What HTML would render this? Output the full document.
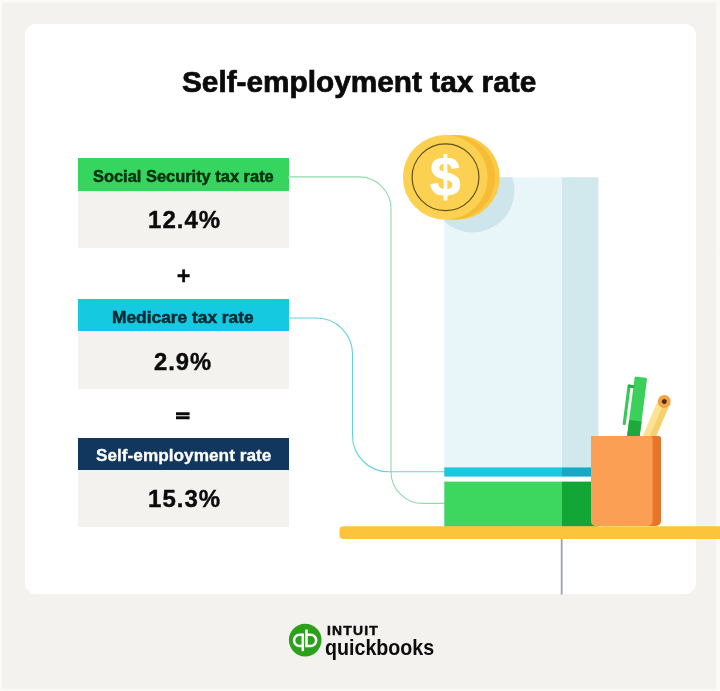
<!DOCTYPE html>
<html lang="en">
<head>
<meta charset="utf-8">
<title>Self-employment tax rate</title>
<style>
html,body{margin:0;padding:0;}
body{width:720px;height:691px;background:linear-gradient(to bottom,#fbfaf6 0,#fbfaf6 1.5px,rgba(243,242,238,0) 4px) top/100% 4px no-repeat,linear-gradient(to left,#fbfaf6 0,#fbfaf6 2.5px,rgba(243,242,238,0) 5px) right/5px 100% no-repeat,linear-gradient(to right,#fbfaf6 0,#fbfaf6 1px,rgba(243,242,238,0) 3px) left/3px 100% no-repeat,linear-gradient(to top,#fbfaf6 0,#fbfaf6 1px,rgba(243,242,238,0) 3px) bottom/100% 3px no-repeat,#f3f2ee;position:relative;overflow:hidden;font-family:"Liberation Sans",sans-serif;}
.card{position:absolute;left:25px;top:24px;width:671px;height:570px;background:#fff;border-radius:11px;}
.t{position:absolute;white-space:nowrap;font-weight:bold;line-height:1;transform-origin:0 0;}
.hd{position:absolute;left:77.8px;width:210.8px;}
.bd{position:absolute;left:77.8px;width:210.8px;background:#f3f2ee;}
svg{position:absolute;left:0;top:0;}
#wrap{position:absolute;left:0;top:0;width:720px;height:691px;filter:blur(0.4px);}
</style>
</head>
<body>
<div id="wrap">
<div class="card"></div>
<div id="title" class="t" style="left:182.1px;top:67.65px;font-size:29px;color:#0b0b0b;-webkit-text-stroke:0.7px #0b0b0b;transform:scaleX(1.027);">Self-employment tax rate</div>

<div class="hd" style="top:158.3px;height:32.6px;background:#36d560"></div>
<div class="bd" style="top:190.8px;height:57.5px"></div>
<div class="hd" style="top:299.2px;height:32.2px;background:#15c9e0"></div>
<div class="bd" style="top:331.3px;height:58px"></div>
<div class="hd" style="top:437.7px;height:32.3px;background:#12375e"></div>
<div class="bd" style="top:469.9px;height:56.8px"></div>

<div id="h1" class="t" style="left:92.6px;top:167.61px;font-size:17px;color:#07300f;-webkit-text-stroke:0.5px #07300f;transform:scaleX(0.966);">Social Security tax rate</div>
<div id="v1" class="t" style="left:147.7px;top:209.18px;font-size:23.3px;letter-spacing:1px;color:#0b0b0b;-webkit-text-stroke:0.4px #0b0b0b;transform:scaleX(1.03);">12.4%</div>
<div id="plus" class="t" style="left:176.8px;top:265.3px;font-size:23.5px;color:#0b0b0b;-webkit-text-stroke:0.3px #0b0b0b;">+</div>
<div id="h2" class="t" style="left:112.0px;top:308.61px;font-size:17px;color:#062a33;-webkit-text-stroke:0.5px #062a33;transform:scaleX(1.02);">Medicare tax rate</div>
<div id="v2" class="t" style="left:154.4px;top:350.58px;font-size:23.3px;letter-spacing:1px;color:#0b0b0b;-webkit-text-stroke:0.4px #0b0b0b;transform:scaleX(1.02);">2.9%</div>
<div id="eq" class="t" style="left:176.4px;top:407.9px;font-size:25px;color:#0b0b0b;-webkit-text-stroke:2.1px #0b0b0b;transform:scale(0.93,0.6);">=</div>
<div id="h3" class="t" style="left:96.0px;top:446.81px;font-size:17px;color:#fff;-webkit-text-stroke:0.3px #fff;transform:scaleX(1.014);">Self-employment rate</div>
<div id="v3" class="t" style="left:147.5px;top:487.58px;font-size:23.3px;letter-spacing:1px;color:#0b0b0b;-webkit-text-stroke:0.4px #0b0b0b;transform:scaleX(1.03);">15.3%</div>

<svg width="720" height="691" viewBox="0 0 720 691">
  <defs>
    <clipPath id="barclip"><rect x="444.3" y="177.3" width="154.2" height="300"/></clipPath>
  </defs>
  <!-- connector lines -->
  <path d="M288 176.9 H359 A32 32 0 0 1 391 208.9 V471.4 A32 32 0 0 0 423 503.4 H445" fill="none" stroke="#8fdcaa" stroke-width="1.1"/>
  <path d="M288 318 H316.5 A36 36 0 0 1 352.5 354 V435.8 A36 36 0 0 0 388.5 471.8 H445" fill="none" stroke="#62d2e2" stroke-width="1.1"/>
  <!-- tall bar -->
  <rect x="444.3" y="177.3" width="118" height="290.2" fill="#e8f5f9"/>
  <rect x="562" y="177.3" width="36.5" height="290.2" fill="#d1e9ed"/>
  <circle cx="472.5" cy="190.5" r="42" fill="#cfe5ec" clip-path="url(#barclip)"/>
  <!-- cyan band -->
  <rect x="444.3" y="467.4" width="118" height="9.2" fill="#1cc8dd"/>
  <rect x="562" y="467.4" width="36.5" height="9.2" fill="#14a9c4"/>
  <!-- green band -->
  <rect x="444.3" y="481.6" width="118" height="45.2" fill="#3dd65f"/>
  <rect x="562" y="481.6" width="36.5" height="45.2" fill="#12a637"/>
  <!-- table leg -->
  <rect x="560.8" y="538" width="1.8" height="56.4" fill="#98a4b0"/>
  <!-- pen -->
  <g transform="translate(-0.6 0) rotate(7.3 633.5 436)">
    <rect x="627.75" y="376.7" width="12.5" height="62" rx="1.5" fill="#3bd05b"/>
    <rect x="627.75" y="420.5" width="12.5" height="19" fill="#1fa83c"/>
    <rect x="621.8" y="385.4" width="3.1" height="40.8" rx="1.2" fill="#35c956"/>
    <rect x="622.5" y="385.4" width="6" height="3" fill="#25b045"/>
  </g>
  <!-- pencil -->
  <g transform="translate(-0.5 0) rotate(23.2 650 436)">
    <rect x="643.7" y="398.5" width="6.3" height="42" fill="#fbe391"/>
    <rect x="650" y="398.5" width="6.3" height="42" fill="#f7d06e"/>
    <circle cx="650" cy="398.5" r="6.5" fill="#f2a444"/>
    <circle cx="650" cy="398.5" r="2.4" fill="#4a2e1a"/>
  </g>
  <!-- cup -->
  <path d="M593 436 H658.5 A2.5 2.5 0 0 1 661 438.5 V521 A5 5 0 0 1 656 526 H596 A5 5 0 0 1 591 521 V438 A2 2 0 0 1 593 436 Z" fill="#e8762a"/>
  <path d="M593 436 H650.5 A2 2 0 0 1 652.5 438 V521 A5 5 0 0 1 647.5 526 H596 A5 5 0 0 1 591 521 V438 A2 2 0 0 1 593 436 Z" fill="#fb9f55"/>
  <!-- table -->
  <path d="M343.5 526.3 H720 V538.9 H343.5 A4 4 0 0 1 339.5 534.9 V530.3 A4 4 0 0 1 343.5 526.3 Z" fill="#fbc43a"/>
  <!-- coin -->
  <circle cx="457.3" cy="177.3" r="42.4" fill="#fbcb48"/>
  <circle cx="452.8" cy="177.3" r="42.4" fill="#f6bc35"/>
  <circle cx="445.3" cy="177.3" r="42.4" fill="#fcd050"/>
  <circle cx="445.5" cy="177.3" r="33.4" fill="none" stroke="#5f5420" stroke-width="1.2"/>
  <text id="dollar" x="445.3" y="196" font-family="Liberation Sans, sans-serif" font-weight="bold" font-size="55" fill="#fff" stroke="#fff" stroke-width="0.8" text-anchor="middle">$</text>
  <!-- logo -->
  <circle cx="305.2" cy="640.1" r="16.3" fill="#2ca01c"/>
  <g fill="none" stroke="#fff" stroke-width="2.5" stroke-linecap="butt" stroke-linejoin="round">
    <path d="M302.8 634.85 H299.6 A5.55 5.55 0 0 0 299.6 645.95 H302.8"/>
    <path d="M302.8 633.6 V651.2"/>
    <path d="M306.5 645.95 H310.6 A5.55 5.55 0 0 0 310.6 634.85 H306.5"/>
    <path d="M306.5 629.5 V647.2"/>
  </g>
</svg>
<div id="intuit" class="t" style="left:326.6px;top:623.9px;font-size:13.3px;color:#0b0b0b;letter-spacing:1.2px;-webkit-text-stroke:0.5px #0b0b0b;transform:scaleX(1.04);">INTUIT</div>
<div id="qb" class="t" style="left:325.0px;top:637.05px;font-size:19.5px;color:#0b0b0b;transform:scale(1.008,1.13);">quickbooks</div>
</div>
</body>
</html>
